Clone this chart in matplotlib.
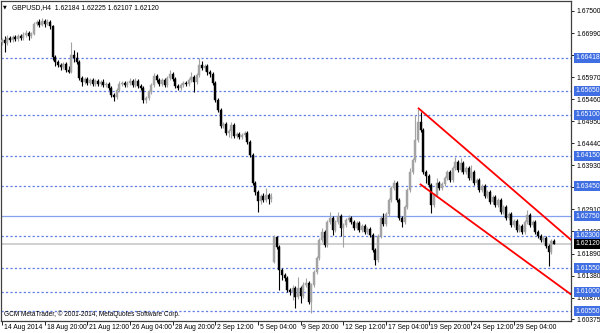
import matplotlib
matplotlib.use("Agg")
import matplotlib.pyplot as plt
from matplotlib.patches import Rectangle
import matplotlib.transforms as mtransforms

plt.rcParams["lines.scale_dashes"] = False
plt.rcParams["font.family"] = ["Liberation Sans", "DejaVu Sans"]

symbol = "GBPUSD,H4"
header_ohlc = ["1.62184", "1.62225", "1.62107", "1.62120"]
copyright_text = "GCM MetaTrader, \u00a9 2001-2014, MetaQuotes Software Corp."

opens = [
    1.6678, 1.6683, 1.6676, 1.6688, 1.6683, 1.6690, 1.6685, 1.6692, 1.6688, 1.6694,
    1.6699, 1.6692, 1.6697, 1.6720, 1.6725, 1.6718, 1.6727, 1.6720, 1.6725, 1.6715,
    1.6644, 1.6632, 1.6625, 1.6620, 1.6627, 1.6614, 1.6609, 1.6648, 1.6641, 1.6632,
    1.6595, 1.6586, 1.6593, 1.6583, 1.6590, 1.6581, 1.6588, 1.6581, 1.6586, 1.6579,
    1.6581, 1.6572, 1.6556, 1.6551, 1.6567, 1.6581, 1.6583, 1.6579, 1.6583, 1.6588,
    1.6579, 1.6588, 1.6577, 1.6572, 1.6544, 1.6549, 1.6563, 1.6579, 1.6600, 1.6590,
    1.6581, 1.6590, 1.6579, 1.6595, 1.6604, 1.6593, 1.6577, 1.6572, 1.6579, 1.6583,
    1.6581, 1.6590, 1.6597, 1.6586, 1.6602, 1.6625, 1.6618, 1.6623, 1.6609, 1.6604,
    1.6583, 1.6544, 1.6521, 1.6484, 1.6489, 1.6468, 1.6472, 1.6486, 1.6461, 1.6466,
    1.6459, 1.6463, 1.6468, 1.6447, 1.6417, 1.6352, 1.6331, 1.6311, 1.6322, 1.6313,
    1.6324, 1.6315, 1.6169, 1.6227, 1.6204, 1.6151, 1.6139, 1.6132, 1.6105, 1.6100,
    1.6109, 1.6088, 1.6109, 1.6091, 1.6116, 1.6121, 1.6077, 1.6116, 1.6146, 1.6179,
    1.6220, 1.6239, 1.6209, 1.6262, 1.6271, 1.6243, 1.6262, 1.6276, 1.6248, 1.6255,
    1.6267, 1.6271, 1.6262, 1.6248, 1.6260, 1.6243, 1.6253, 1.6239, 1.6246, 1.6232,
    1.6197, 1.6174, 1.6230, 1.6271, 1.6257, 1.6280, 1.6313, 1.6341, 1.6352, 1.6313,
    1.6271, 1.6262, 1.6297, 1.6336, 1.6378, 1.6405, 1.6452, 1.6493, 1.6475, 1.6378,
    1.6368, 1.6348, 1.6301, 1.6324, 1.6352, 1.6341, 1.6350, 1.6364, 1.6378, 1.6359,
    1.6387, 1.6401, 1.6382, 1.6398, 1.6378, 1.6387, 1.6364, 1.6378, 1.6352, 1.6359,
    1.6336, 1.6345, 1.6322, 1.6331, 1.6308, 1.6320, 1.6301, 1.6313, 1.6285, 1.6297,
    1.6271, 1.6280, 1.6255, 1.6264, 1.6243, 1.6253, 1.6239, 1.6262, 1.6278, 1.6255,
    1.6262, 1.6239, 1.6230, 1.6220, 1.6225, 1.6206, 1.6193, 1.62184,
]
highs = [
    1.6688, 1.6692, 1.6694, 1.6692, 1.6694, 1.6694, 1.6697, 1.6697, 1.6701, 1.6706,
    1.6704, 1.6701, 1.6725, 1.6729, 1.6732, 1.6734, 1.6732, 1.6732, 1.6729, 1.6718,
    1.6648, 1.6637, 1.6630, 1.6632, 1.6632, 1.6623, 1.6678, 1.6660, 1.6655, 1.6637,
    1.6600, 1.6597, 1.6597, 1.6595, 1.6595, 1.6593, 1.6593, 1.6590, 1.6593, 1.6586,
    1.6586, 1.6577, 1.6560, 1.6572, 1.6588, 1.6588, 1.6588, 1.6588, 1.6595, 1.6593,
    1.6595, 1.6593, 1.6581, 1.6577, 1.6553, 1.6567, 1.6583, 1.6607, 1.6604, 1.6595,
    1.6595, 1.6595, 1.6600, 1.6614, 1.6609, 1.6597, 1.6581, 1.6583, 1.6588, 1.6588,
    1.6595, 1.6609, 1.6602, 1.6607, 1.6641, 1.6634, 1.6627, 1.6627, 1.6614, 1.6609,
    1.6588, 1.6549, 1.6526, 1.6493, 1.6493, 1.6477, 1.6493, 1.6491, 1.6470, 1.6470,
    1.6468, 1.6472, 1.6472, 1.6452, 1.6422, 1.6357, 1.6336, 1.6327, 1.6329, 1.6341,
    1.6329, 1.6329, 1.6232, 1.6230, 1.6209, 1.6156, 1.6144, 1.6137, 1.6109, 1.6116,
    1.6114, 1.6135, 1.6114, 1.6123, 1.6132, 1.6125, 1.6121, 1.6151, 1.6183, 1.6225,
    1.6248, 1.6243, 1.6267, 1.6285, 1.6276, 1.6267, 1.6285, 1.6280, 1.6260, 1.6271,
    1.6278, 1.6276, 1.6267, 1.6264, 1.6264, 1.6257, 1.6257, 1.6250, 1.6250, 1.6236,
    1.6202, 1.6234, 1.6276, 1.6283, 1.6285, 1.6317, 1.6345, 1.6359, 1.6357, 1.6317,
    1.6276, 1.6301, 1.6341, 1.6387, 1.6410, 1.6509, 1.6523, 1.6516, 1.6479, 1.6382,
    1.6373, 1.6352, 1.6329, 1.6364, 1.6357, 1.6354, 1.6368, 1.6382, 1.6382, 1.6392,
    1.6412, 1.6405, 1.6410, 1.6403, 1.6392, 1.6392, 1.6394, 1.6382, 1.6364, 1.6364,
    1.6350, 1.6350, 1.6336, 1.6336, 1.6324, 1.6324, 1.6317, 1.6317, 1.6301, 1.6301,
    1.6285, 1.6285, 1.6269, 1.6269, 1.6257, 1.6257, 1.6267, 1.6290, 1.6283, 1.6267,
    1.6267, 1.6243, 1.6234, 1.6230, 1.6230, 1.6211, 1.6223, 1.62225,
]
lows = [
    1.6671, 1.6655, 1.6671, 1.6678, 1.6678, 1.6681, 1.6681, 1.6683, 1.6683, 1.6690,
    1.6683, 1.6688, 1.6694, 1.6715, 1.6713, 1.6715, 1.6713, 1.6718, 1.6708, 1.6637,
    1.6623, 1.6620, 1.6614, 1.6616, 1.6609, 1.6607, 1.6607, 1.6632, 1.6627, 1.6590,
    1.6577, 1.6581, 1.6579, 1.6579, 1.6577, 1.6577, 1.6577, 1.6577, 1.6574, 1.6574,
    1.6567, 1.6551, 1.6542, 1.6546, 1.6563, 1.6577, 1.6574, 1.6574, 1.6579, 1.6574,
    1.6574, 1.6572, 1.6567, 1.6537, 1.6537, 1.6544, 1.6558, 1.6574, 1.6586, 1.6577,
    1.6577, 1.6574, 1.6574, 1.6590, 1.6588, 1.6572, 1.6567, 1.6567, 1.6574, 1.6577,
    1.6577, 1.6586, 1.6563, 1.6581, 1.6597, 1.6614, 1.6611, 1.6602, 1.6597, 1.6579,
    1.6540, 1.6516, 1.6479, 1.6479, 1.6463, 1.6459, 1.6456, 1.6456, 1.6456, 1.6454,
    1.6454, 1.6459, 1.6442, 1.6412, 1.6348, 1.6324, 1.6285, 1.6304, 1.6308, 1.6308,
    1.6304, 1.6308, 1.6167, 1.6200, 1.6105, 1.6128, 1.6125, 1.6100, 1.6093, 1.6082,
    1.6063, 1.6084, 1.6075, 1.6086, 1.6112, 1.6072, 1.6051, 1.6112, 1.6142, 1.6174,
    1.6216, 1.6204, 1.6204, 1.6257, 1.6232, 1.6239, 1.6257, 1.6230, 1.6204, 1.6250,
    1.6262, 1.6257, 1.6243, 1.6243, 1.6239, 1.6239, 1.6234, 1.6234, 1.6227, 1.6193,
    1.6162, 1.6169, 1.6225, 1.6253, 1.6253, 1.6276, 1.6308, 1.6336, 1.6308, 1.6267,
    1.6250, 1.6257, 1.6292, 1.6331, 1.6373, 1.6401, 1.6447, 1.6470, 1.6373, 1.6352,
    1.6343, 1.6283, 1.6297, 1.6320, 1.6336, 1.6336, 1.6345, 1.6359, 1.6354, 1.6354,
    1.6382, 1.6378, 1.6378, 1.6373, 1.6373, 1.6359, 1.6359, 1.6348, 1.6348, 1.6331,
    1.6331, 1.6317, 1.6317, 1.6304, 1.6304, 1.6297, 1.6297, 1.6280, 1.6280, 1.6267,
    1.6267, 1.6250, 1.6250, 1.6239, 1.6239, 1.6234, 1.6234, 1.6257, 1.6250, 1.6250,
    1.6234, 1.6225, 1.6216, 1.6216, 1.6202, 1.6160, 1.6188, 1.62107,
]
closes = [
    1.6683, 1.6676, 1.6688, 1.6683, 1.6690, 1.6685, 1.6692, 1.6688, 1.6694, 1.6699,
    1.6692, 1.6697, 1.6720, 1.6725, 1.6718, 1.6727, 1.6720, 1.6725, 1.6715, 1.6644,
    1.6632, 1.6625, 1.6620, 1.6627, 1.6614, 1.6609, 1.6648, 1.6641, 1.6632, 1.6595,
    1.6586, 1.6593, 1.6583, 1.6590, 1.6581, 1.6588, 1.6581, 1.6586, 1.6579, 1.6581,
    1.6572, 1.6556, 1.6551, 1.6567, 1.6581, 1.6583, 1.6579, 1.6583, 1.6588, 1.6579,
    1.6588, 1.6577, 1.6572, 1.6544, 1.6549, 1.6563, 1.6579, 1.6600, 1.6590, 1.6581,
    1.6590, 1.6579, 1.6595, 1.6604, 1.6593, 1.6577, 1.6572, 1.6579, 1.6583, 1.6581,
    1.6590, 1.6597, 1.6586, 1.6602, 1.6625, 1.6618, 1.6623, 1.6609, 1.6604, 1.6583,
    1.6544, 1.6521, 1.6484, 1.6489, 1.6468, 1.6472, 1.6486, 1.6461, 1.6466, 1.6459,
    1.6463, 1.6468, 1.6447, 1.6417, 1.6352, 1.6331, 1.6311, 1.6322, 1.6313, 1.6324,
    1.6315, 1.6320, 1.6227, 1.6204, 1.6151, 1.6139, 1.6132, 1.6105, 1.6100, 1.6109,
    1.6088, 1.6109, 1.6091, 1.6116, 1.6121, 1.6077, 1.6116, 1.6146, 1.6179, 1.6220,
    1.6239, 1.6209, 1.6262, 1.6271, 1.6243, 1.6262, 1.6276, 1.6248, 1.6255, 1.6267,
    1.6271, 1.6262, 1.6248, 1.6260, 1.6243, 1.6253, 1.6239, 1.6246, 1.6232, 1.6197,
    1.6174, 1.6230, 1.6271, 1.6257, 1.6280, 1.6313, 1.6341, 1.6352, 1.6313, 1.6271,
    1.6262, 1.6297, 1.6336, 1.6378, 1.6405, 1.6452, 1.6493, 1.6475, 1.6378, 1.6368,
    1.6348, 1.6301, 1.6324, 1.6352, 1.6341, 1.6350, 1.6364, 1.6378, 1.6359, 1.6387,
    1.6401, 1.6382, 1.6398, 1.6378, 1.6387, 1.6364, 1.6378, 1.6352, 1.6359, 1.6336,
    1.6345, 1.6322, 1.6331, 1.6308, 1.6320, 1.6301, 1.6313, 1.6285, 1.6297, 1.6271,
    1.6280, 1.6255, 1.6264, 1.6243, 1.6253, 1.6239, 1.6262, 1.6278, 1.6255, 1.6262,
    1.6239, 1.6230, 1.6220, 1.6225, 1.6206, 1.6193, 1.6218, 1.62120,
]

date_labels = ["14 Aug 2014", "18 Aug 20:00", "21 Aug 12:00", "26 Aug 04:00",
               "28 Aug 20:00", "2 Sep 12:00", "5 Sep 04:00", "9 Sep 20:00",
               "12 Sep 12:00", "17 Sep 04:00", "19 Sep 20:00", "24 Sep 12:00",
               "29 Sep 04:00"]
date_label_bars = [0, 16, 32, 48, 64, 80, 96, 112, 128, 144, 160, 176, 192]

price_ticks = [1.67500, 1.66990, 1.66480, 1.65970, 1.65460, 1.64950, 1.64440,
               1.63930, 1.63420, 1.62910, 1.62400, 1.61890, 1.61380, 1.60870,
               1.60375]
dotted_levels = [1.66418, 1.65650, 1.65100, 1.64150, 1.63450, 1.62300,
                 1.61550, 1.61000, 1.60550]
solid_levels = [1.62750]

upper_channel_bars = [156.0, 213.5]
upper_channel_prices = [1.6526, 1.6220]
lower_channel_bars = [156.7, 213.5]
lower_channel_prices = [1.6350, 1.6094]

W, H = 600, 333
FS = 4.9
fig = plt.figure(figsize=(W / 100, H / 100), dpi=100, facecolor="white")
ax = fig.add_axes([1 / W, 12 / H, 570 / W, 320 / H])
ax.set_facecolor("white")
ax.set_xlim(-0.375, 213.4)
ax.set_ylim(1.60329, 1.67731)

for s in ax.spines.values():
    s.set_color("#404040")
    s.set_linewidth(0.9)

level_color = "#5f7fe6"
for lv in dotted_levels:
    ax.axhline(lv, color=level_color, lw=0.9, linestyle=(0, (1.6, 1.6)), zorder=1)
for lv in solid_levels:
    ax.axhline(lv, color="#86a0f0", lw=0.9, zorder=1)
bid = closes[-1]
ax.axhline(bid, color="#c8c8c8", lw=1.2, zorder=1)

bull_color = "#a3a3a3"
bear_color = "#000000"
for i, (o, h, l, c) in enumerate(zip(opens, highs, lows, closes)):
    col = bull_color if c >= o else bear_color
    ax.vlines(i, l, h, color=col, lw=0.8, zorder=3)
    ax.add_patch(Rectangle((i - 0.36, min(o, c)), 0.72, max(abs(c - o), 0.00003),
                           facecolor=col, edgecolor=col, lw=0.3, zorder=4))

ax.plot(upper_channel_bars, upper_channel_prices, color="#ff0000", lw=1.3, zorder=5,
        solid_capstyle="butt")
ax.plot(lower_channel_bars, lower_channel_prices, color="#ff0000", lw=1.3, zorder=5,
        solid_capstyle="butt")

# right price axis
ax.yaxis.tick_right()
ax.set_yticks(price_ticks)
ax.set_yticklabels([f"{p:.5f}" for p in price_ticks])
ax.tick_params(axis="y", which="both", direction="out", length=2.5, width=0.6,
               pad=1.5, labelsize=FS, colors="#000000")

trans = mtransforms.blended_transform_factory(ax.transAxes, ax.transData)
for lv in dotted_levels + solid_levels:
    ax.text(1.0 + 4 / 570, lv, f"{lv:.5f}", transform=trans, ha="left",
            va="center", fontsize=FS, color="white", zorder=10, clip_on=False,
            bbox=dict(boxstyle="square,pad=0.22", fc="#3f6fe3", ec="none"))
ax.text(1.0 + 4 / 570, bid, f"{bid:.5f}", transform=trans, ha="left",
        va="center", fontsize=FS, color="white", zorder=10, clip_on=False,
        bbox=dict(boxstyle="square,pad=0.22", fc="#000000", ec="none"))

# bottom time axis
ax.set_xticks(date_label_bars)
ax.set_xticklabels([])
ax.tick_params(axis="x", direction="out", length=3, width=0.6, colors="#000000")
xtrans = ax.get_xaxis_transform()
for b, lbl in zip(date_label_bars, date_labels):
    ax.text(b + 0.7, -6.5 / 320, lbl, transform=xtrans, ha="left", va="center",
            fontsize=FS, color="#000000", clip_on=False)

# header and footer
fig.text(5 / W, 1 - 7 / H, "\u25bc", fontsize=3.5, ha="center", va="center",
         color="#000000", family="DejaVu Sans")
fig.text(12 / W, 1 - 7.5 / H, symbol + "  " + " ".join(header_ohlc),
         fontsize=FS, ha="left", va="center", color="#000000")
fig.text(4 / W, 1 - 314 / H, copyright_text, fontsize=4.7, ha="left",
         va="center", color="#000000")

fig.savefig("out.png", dpi=100, facecolor="white")
